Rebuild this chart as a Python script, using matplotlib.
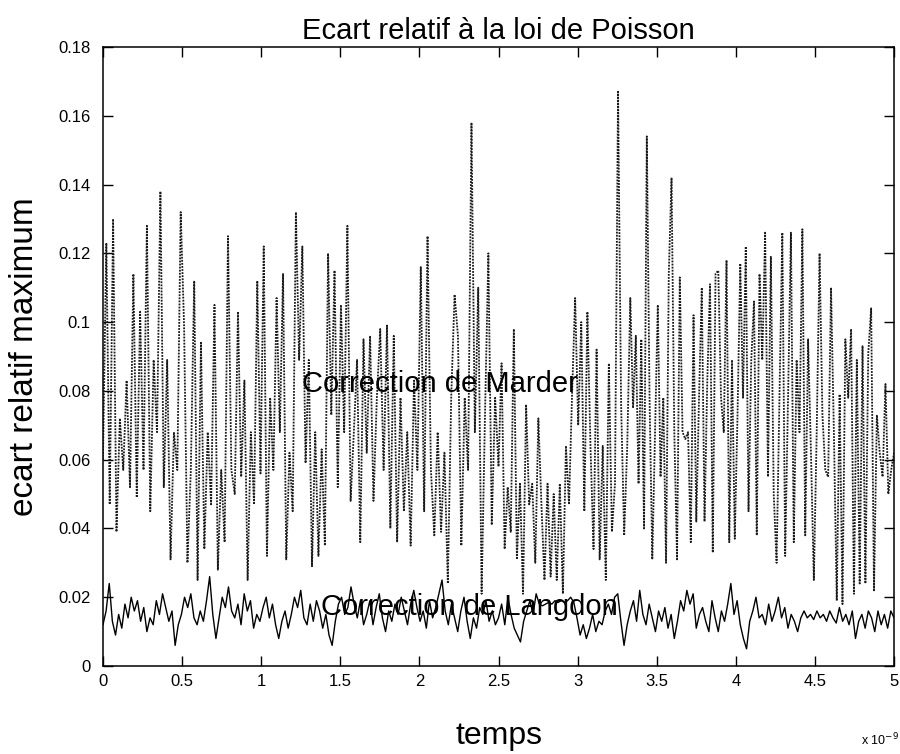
import numpy as np
import matplotlib
matplotlib.use("Agg")
import matplotlib.pyplot as plt

plt.rcParams['font.family'] = ['Liberation Sans', 'DejaVu Sans']

# time axis in units of 1e-9 s, curve read in six consecutive slices
slice_edges = [0.0, 0.833, 1.667, 2.5, 3.333, 4.167, 5.0]

# Correction de Marder (dotted)
marder_s1 = [0.060, 0.123, 0.047, 0.130, 0.039, 0.072, 0.057, 0.083, 0.052, 0.114,
             0.049, 0.103, 0.057, 0.128, 0.045, 0.089, 0.068, 0.138, 0.052, 0.089,
             0.031, 0.068, 0.057, 0.132, 0.099, 0.030, 0.057, 0.112, 0.025, 0.094,
             0.034, 0.068, 0.047, 0.105, 0.028, 0.057, 0.036, 0.125, 0.057]
marder_s2 = [0.050, 0.103, 0.055, 0.083, 0.025, 0.068, 0.047, 0.112, 0.056, 0.122,
             0.032, 0.078, 0.057, 0.107, 0.068, 0.114, 0.031, 0.062, 0.045, 0.132,
             0.089, 0.122, 0.059, 0.089, 0.029, 0.068, 0.032, 0.063, 0.035, 0.120,
             0.073, 0.115, 0.052, 0.105, 0.068, 0.128, 0.048, 0.068, 0.089, 0.036,
             0.095]
marder_s3 = [0.062, 0.096, 0.048, 0.078, 0.098, 0.057, 0.099, 0.040, 0.096, 0.036,
             0.078, 0.045, 0.068, 0.035, 0.083, 0.057, 0.116, 0.045, 0.125, 0.057,
             0.038, 0.068, 0.039, 0.062, 0.024, 0.078, 0.108, 0.096, 0.035, 0.078,
             0.057, 0.158, 0.068, 0.110, 0.021, 0.073, 0.120, 0.041, 0.078]
marder_s4 = [0.058, 0.088, 0.034, 0.052, 0.039, 0.098, 0.031, 0.053, 0.021, 0.076,
             0.047, 0.053, 0.030, 0.072, 0.047, 0.025, 0.053, 0.026, 0.050, 0.025,
             0.053, 0.021, 0.064, 0.047, 0.079, 0.107, 0.070, 0.100, 0.045, 0.103,
             0.064, 0.034, 0.092, 0.031, 0.064, 0.025, 0.088, 0.039, 0.053, 0.167,
             0.076, 0.038, 0.064]
marder_s5 = [0.107, 0.075, 0.096, 0.053, 0.095, 0.040, 0.154, 0.078, 0.031, 0.068,
             0.105, 0.055, 0.078, 0.030, 0.114, 0.142, 0.068, 0.031, 0.113, 0.068,
             0.066, 0.068, 0.036, 0.102, 0.042, 0.078, 0.110, 0.042, 0.083, 0.111,
             0.033, 0.114, 0.115, 0.078, 0.068, 0.118, 0.036, 0.089, 0.037, 0.073,
             0.117, 0.078, 0.122, 0.045, 0.089, 0.106, 0.038, 0.114]
marder_s6 = [0.089, 0.126, 0.055, 0.119, 0.050, 0.030, 0.078, 0.126, 0.032, 0.078,
             0.126, 0.036, 0.089, 0.068, 0.127, 0.038, 0.095, 0.062, 0.025, 0.068,
             0.120, 0.073, 0.057, 0.055, 0.110, 0.068, 0.019, 0.079, 0.018, 0.095,
             0.078, 0.098, 0.021, 0.089, 0.024, 0.093, 0.024, 0.091, 0.104, 0.022,
             0.073, 0.062, 0.055, 0.082, 0.050, 0.057, 0.062]

# Correction de Langdon (solid)
langdon_s1 = [0.012, 0.016, 0.024, 0.013, 0.009, 0.015, 0.011, 0.018, 0.014, 0.020,
              0.016, 0.019, 0.013, 0.017, 0.010, 0.014, 0.012, 0.019, 0.015, 0.021,
              0.017, 0.013, 0.016, 0.006, 0.012, 0.015, 0.020, 0.017, 0.021, 0.014,
              0.012, 0.016, 0.013, 0.019, 0.026, 0.015, 0.008, 0.014, 0.020, 0.017,
              0.023, 0.016]
langdon_s2 = [0.014, 0.018, 0.012, 0.021, 0.016, 0.019, 0.011, 0.015, 0.013, 0.017,
              0.020, 0.014, 0.018, 0.012, 0.008, 0.013, 0.016, 0.011, 0.015, 0.020,
              0.017, 0.022, 0.014, 0.012, 0.018, 0.013, 0.019, 0.016, 0.011, 0.015,
              0.009, 0.006, 0.013, 0.018, 0.020, 0.015, 0.017, 0.023, 0.018, 0.014,
              0.019, 0.012]
langdon_s3 = [0.015, 0.019, 0.012, 0.017, 0.021, 0.014, 0.010, 0.016, 0.013, 0.018,
              0.015, 0.020, 0.016, 0.012, 0.018, 0.022, 0.017, 0.013, 0.016, 0.011,
              0.019, 0.014, 0.017, 0.021, 0.025, 0.016, 0.012, 0.018, 0.014, 0.010,
              0.016, 0.020, 0.013, 0.008, 0.014, 0.011, 0.017, 0.015, 0.019, 0.013,
              0.016, 0.012]
langdon_s4 = [0.014, 0.018, 0.012, 0.020, 0.015, 0.011, 0.009, 0.007, 0.013, 0.016,
              0.019, 0.015, 0.021, 0.018, 0.0175, 0.018, 0.0185, 0.018, 0.019, 0.0185,
              0.019, 0.0185, 0.019, 0.020, 0.0185, 0.014, 0.009, 0.012, 0.008, 0.011,
              0.015, 0.010, 0.013, 0.012, 0.016, 0.018, 0.015, 0.020, 0.021, 0.013,
              0.006, 0.012]
langdon_s5 = [0.016, 0.019, 0.013, 0.022, 0.015, 0.012, 0.018, 0.014, 0.010, 0.016,
              0.013, 0.017, 0.011, 0.015, 0.008, 0.013, 0.019, 0.016, 0.022, 0.018,
              0.021, 0.011, 0.015, 0.017, 0.013, 0.010, 0.019, 0.014, 0.010, 0.016,
              0.013, 0.018, 0.024, 0.015, 0.019, 0.012, 0.008, 0.005, 0.013, 0.016,
              0.020, 0.014]
langdon_s6 = [0.015, 0.012, 0.018, 0.013, 0.016, 0.020, 0.014, 0.017, 0.011, 0.015,
              0.013, 0.010, 0.014, 0.016, 0.014, 0.015, 0.0135, 0.016, 0.014, 0.015,
              0.013, 0.016, 0.014, 0.0125, 0.017, 0.013, 0.015, 0.012, 0.016, 0.008,
              0.013, 0.015, 0.011, 0.016, 0.014, 0.010, 0.016, 0.012, 0.015, 0.011,
              0.016, 0.014]

xtick_vals = [0, 0.5, 1, 1.5, 2, 2.5, 3, 3.5, 4, 4.5, 5]
xtick_labels = ['0', '0.5', '1', '1.5', '2', '2.5', '3', '3.5', '4', '4.5', '5']
ytick_vals = [0, 0.02, 0.04, 0.06, 0.08, 0.1, 0.12, 0.14, 0.16, 0.18]
ytick_labels = ['0', '0.02', '0.04', '0.06', '0.08', '0.1', '0.12', '0.14', '0.16', '0.18']


def join_slices(slices):
    ts, vs = [], []
    last = len(slices) - 1
    for k, s in enumerate(slices):
        t = np.linspace(slice_edges[k], slice_edges[k + 1], len(s), endpoint=(k == last))
        ts.append(t)
        vs.append(np.asarray(s))
    return np.concatenate(ts), np.concatenate(vs)


t_m, marder = join_slices([marder_s1, marder_s2, marder_s3, marder_s4, marder_s5, marder_s6])
t_l, langdon = join_slices([langdon_s1, langdon_s2, langdon_s3, langdon_s4, langdon_s5, langdon_s6])

fig = plt.figure(figsize=(9, 7.54), dpi=100)
ax = fig.add_axes([0.1144, 0.1167, 0.879, 0.821])

ax.plot(t_m, marder, color='0.1', linestyle=(0, (1, 0.7)), linewidth=1.3)
ax.plot(t_l, langdon, color='black', linestyle='-', linewidth=1.0)

ax.set_xlim(0, 5)
ax.set_ylim(0, 0.18)
ax.set_xticks(xtick_vals, xtick_labels)
ax.set_yticks(ytick_vals, ytick_labels)
ax.tick_params(direction='in', top=True, right=True, length=7, width=1, labelsize=12)
ax.tick_params(axis='y', pad=9)
ax.tick_params(axis='x', pad=6)
for sp in ax.spines.values():
    sp.set_linewidth(1.1)

ax.set_title('Ecart relatif à la loi de Poisson', fontsize=21, pad=6)
ax.set_xlabel('temps', fontsize=23, labelpad=23)
ax.set_ylabel('ecart relatif maximum', fontsize=24, labelpad=13)

ax.text(1.26, 0.082, 'Correction de Marder', fontsize=21, ha='left', va='center')
ax.text(1.38, 0.0172, 'Correction de Langdon', fontsize=21, ha='left', va='center')

fig.text(0.999, 0.018, r'x 10$^{-9}$', fontsize=9, ha='right', va='center')

fig.savefig('out.png', dpi=100)
